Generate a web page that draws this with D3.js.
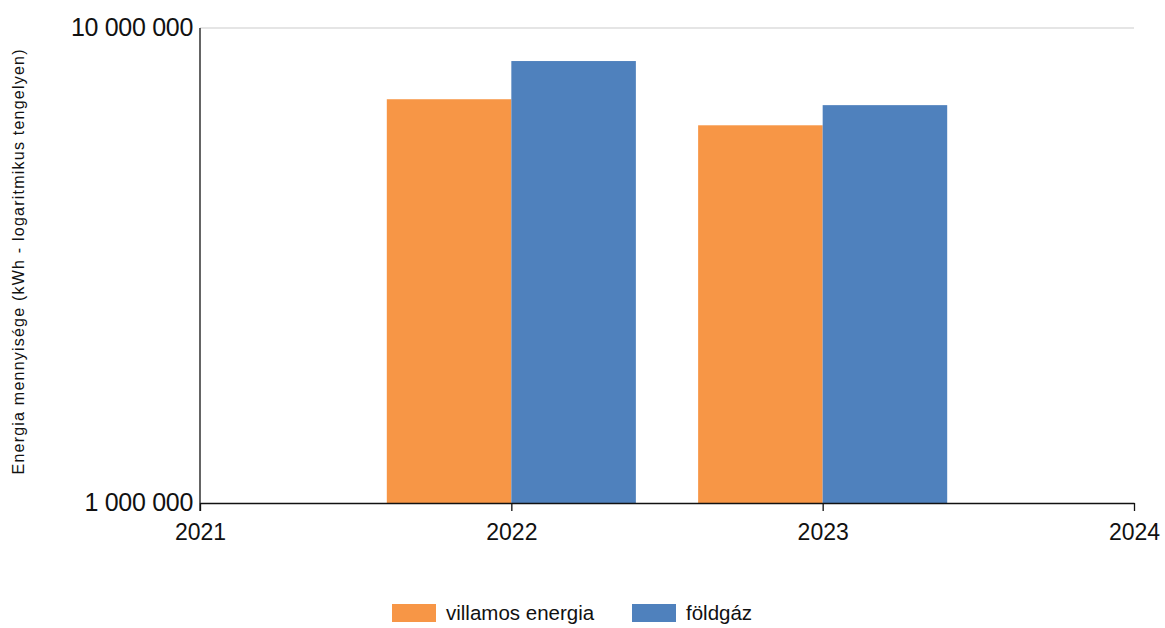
<!DOCTYPE html>
<html>
<head>
<meta charset="utf-8">
<script src="https://cdn.jsdelivr.net/npm/d3@7"></script>
<style>
  body { margin: 0; background: #fff; }
  text { font-family: "Liberation Sans", Arial, sans-serif; fill: #111; }
</style>
</head>
<body>
<svg id="chart" width="1165" height="628"></svg>
<script>
const years = [2022, 2023];
const seriesNames = ["villamos energia", "földgáz"];
const villamos = [7080000, 6240000];
const foldgaz = [8520000, 6880000];
const yTicks = [1000000, 10000000];
const xTicks = [2021, 2022, 2023, 2024];
const colors = ["#f79646", "#4f81bd"];

const svg = d3.select("#chart");

const x = d3.scaleLinear().domain([2021, 2024]).range([200, 1134]);
const y = d3.scaleLog().domain([1000000, 10000000]).range([503, 28]);

const fmt = v => d3.format(",")(v).replace(/,/g, " ");

// grid line at top
svg.append("line")
    .attr("x1", x(2021)).attr("x2", x(2024))
    .attr("y1", y(10000000)).attr("y2", y(10000000))
    .attr("stroke", "#dcdcdc").attr("stroke-width", 1.5);

// bars
const series = [villamos, foldgaz];
series.forEach((vals, s) => {
    svg.append("g").selectAll("rect")
        .data(years.map((yr, i) => ({yr, v: vals[i]})))
        .enter()
        .append("rect")
        .attr("x", d => x(d.yr - 0.4 + 0.4 * s))
        .attr("width", x(2021.4) - x(2021))
        .attr("y", d => y(d.v))
        .attr("height", d => y(1000000) - y(d.v))
        .attr("fill", colors[s]);
});

// x axis
const xAxis = d3.axisBottom(x)
    .tickValues(xTicks)
    .tickFormat(d3.format("d"))
    .tickSizeInner(8)
    .tickSizeOuter(0);

const gx = svg.append("g")
    .attr("transform", `translate(0,${y(1000000)})`)
    .call(xAxis);
gx.select(".domain").attr("stroke", "#111").attr("stroke-width", 1.3);
gx.selectAll(".tick line").attr("stroke", "#111").attr("stroke-width", 1.3);
gx.selectAll(".tick text")
    .attr("font-size", 23)
    .attr("dy", "1.15em")
    .style("font-family", "'Liberation Sans', Arial, sans-serif")
    .attr("fill", "#111");

// y axis
svg.append("line")
    .attr("x1", x(2021)).attr("x2", x(2021))
    .attr("y1", y(10000000)).attr("y2", y(1000000) + 8)
    .attr("stroke", "#111").attr("stroke-width", 1.3);

svg.append("g").selectAll("text")
    .data(yTicks)
    .enter()
    .append("text")
    .attr("x", 193)
    .attr("y", d => y(d))
    .attr("dy", "0.3em")
    .attr("text-anchor", "end")
    .attr("font-size", 25)
    .attr("letter-spacing", -0.3)
    .text(fmt);

// y axis title
svg.append("text")
    .attr("transform", "translate(24,262) rotate(-90)")
    .attr("text-anchor", "middle")
    .attr("font-size", 16)
    .attr("textLength", 425)
    .text("Energia mennyisége (kWh - logaritmikus tengelyen)");

// legend
const legendX = [392, 632];
const legend = svg.append("g").selectAll("g")
    .data(seriesNames)
    .enter()
    .append("g")
    .attr("transform", (d, i) => `translate(${legendX[i]},604)`);

legend.append("rect")
    .attr("width", 44)
    .attr("height", 18)
    .attr("fill", (d, i) => colors[i]);

legend.append("text")
    .attr("x", 54)
    .attr("y", 9)
    .attr("dy", "0.35em")
    .attr("font-size", 20.5)
    .text(d => d);
</script>
</body>
</html>
